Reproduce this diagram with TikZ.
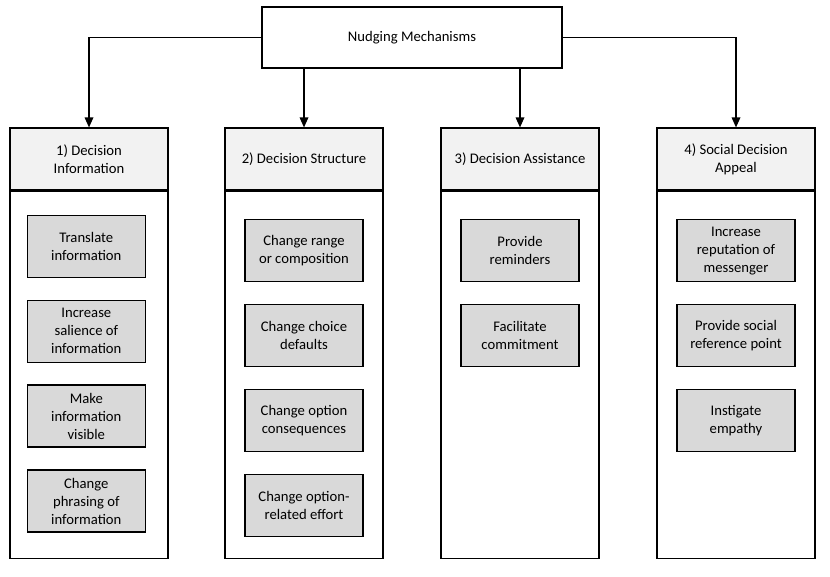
\documentclass[tikz,border=0pt]{standalone}
\usepackage{fontspec}
\setmainfont{Carlito}
\usepackage{tikz}
\usetikzlibrary{positioning, arrows.meta}

\definecolor{headgray}{HTML}{F2F2F2}
\definecolor{itemgray}{HTML}{D9D9D9}

\tikzset{
	topbox/.style={draw, line width=0.9pt, minimum width=225pt, minimum height=45.75pt, align=center},
	headbox/.style={draw, fill=headgray, line width=0.9pt, minimum width=118.5pt, minimum height=46.5pt, align=center},
	colbox/.style={draw, line width=0.9pt, minimum width=118.5pt, minimum height=275.25pt},
	itembox/.style={draw, fill=itemgray, line width=0.9pt, minimum width=88.5pt, minimum height=46.5pt, align=center},
	link/.style={line width=0.9pt, -{Triangle[length=7.5pt,width=6.5pt]}}
}

\begin{document}
\begin{tikzpicture}[x=0.75pt, y=-0.75pt, font=\fontsize{11pt}{13.5pt}\selectfont]
		\useasboundingbox (0,0) rectangle (830,576);
		% Top node
		\node[topbox] (nudge) at (412,37.5) {Nudging Mechanisms};
		% Column headers
		\node[headbox] (h1) at (89,159) {1) Decision\\Information};
		\node[headbox] (h2) at (304,159) {2) Decision Structure};
		\node[headbox] (h3) at (520,159) {3) Decision Assistance};
		\node[headbox] (h4) at (736,159) {4) Social Decision\\Appeal};
		% Column bodies
		\node[colbox, below=0pt of h1] (c1) {};
		\node[colbox, below=0pt of h2] (c2) {};
		\node[colbox, below=0pt of h3] (c3) {};
		\node[colbox, below=0pt of h4] (c4) {};
		% Connectors from the top node
		\draw[link] (nudge.west) -| (h1.north);
		\draw[link] (nudge.south -| h2.north) -- (h2.north);
		\draw[link] (nudge.south -| h3.north) -- (h3.north);
		\draw[link] (nudge.east) -| (h4.north);
		% 1) Decision information
		\node[itembox, below=18pt of c1.north, xshift=-2pt] (i11) {Translate\\information};
		\node[itembox, below=16.3pt of i11] (i12) {Increase\\salience of\\information};
		\node[itembox, below=16.3pt of i12] (i13) {Make\\information\\visible};
		\node[itembox, below=16.3pt of i13] (i14) {Change\\phrasing of\\information};
		% 2) Decision structure
		\node[itembox, below=21.3pt of c2.north] (i21) {Change range\\or composition};
		\node[itembox, below=16.3pt of i21] (i22) {Change choice\\defaults};
		\node[itembox, below=16.3pt of i22] (i23) {Change option\\consequences};
		\node[itembox, below=16.3pt of i23] (i24) {Change option-\\related effort};
		% 3) Decision assistance
		\node[itembox, below=21.3pt of c3.north] (i31) {Provide\\reminders};
		\node[itembox, below=16.3pt of i31] (i32) {Facilitate\\commitment};
		% 4) Social decision appeal
		\node[itembox, below=21.3pt of c4.north] (i41) {Increase\\reputation of\\messenger};
		\node[itembox, below=16.3pt of i41] (i42) {Provide social\\reference point};
		\node[itembox, below=16.3pt of i42] (i43) {Instigate\\empathy};
	\end{tikzpicture}
\end{document}
